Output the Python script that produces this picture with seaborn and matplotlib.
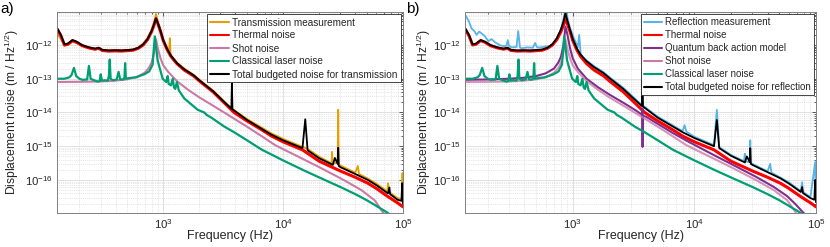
import matplotlib
matplotlib.use('Agg')
import matplotlib.pyplot as plt
import matplotlib.ticker as mticker
import seaborn as sns

sns.set_theme(style="white")
plt.rcParams['font.family'] = ['Liberation Sans', 'DejaVu Sans']
plt.rcParams['mathtext.fontset'] = 'custom'
plt.rcParams['mathtext.rm'] = 'Liberation Sans'
plt.rcParams['mathtext.it'] = 'Liberation Sans:italic'
plt.rcParams['mathtext.bf'] = 'Liberation Sans:bold'

# ---- data (frequency in Hz, displacement noise in m/Hz^1/2) ----
F_TOTAL_T = [130, 140, 150, 160, 175, 190, 210, 240, 270, 290, 310, 350, 400, 450, 500, 560, 620, 680, 740,
             800, 840, 870, 900, 950, 1000, 1080, 1160, 1300, 1500, 1800, 2000, 2600, 3200, 3700, 3740, 3780,
             5000, 6600, 8000, 10000, 14500, 15300, 16000, 20000, 26000, 27000, 28500, 28800, 29100, 30000,
             40000, 51000, 60000, 75000, 77000, 78000, 90000, 97000, 98500, 100000]
TOTAL_T = [3.2e-12, 2.0e-12, 1.05e-12, 1.1e-12, 1.4e-12, 1.25e-12, 1.0e-12, 8.5e-13, 7.8e-13, 8.3e-13, 7.2e-13,
           6.9e-13, 7.0e-13, 6.9e-13, 7.1e-13, 7.3e-13, 8.3e-13, 1.05e-12, 1.5e-12, 2.6e-12, 4.2e-12, 6.2e-12,
           4.6e-12, 2.6e-12, 1.4e-12, 7.5e-13, 4.8e-13, 2.9e-13, 1.9e-13, 1.25e-13, 9.0e-14, 4.3e-14, 2.1e-14,
           1.3e-14, 7.3e-14, 1.25e-14, 6.0e-15, 3.3e-15, 2.2e-15, 1.5e-15, 8.8e-16, 6.3e-15, 7.6e-16, 4.4e-16,
           2.8e-16, 4.5e-16, 3.0e-16, 9.0e-16, 2.6e-16, 2.4e-16, 1.5e-16, 1.0e-16, 7.0e-17, 4.0e-17, 6.0e-17,
           3.8e-17, 2.6e-17, 2.4e-17, 8.0e-17, 2.0e-17]

F_TRANS = [130, 140, 150, 160, 175, 190, 210, 240, 270, 290, 310, 350, 400, 450, 500, 560, 620, 680, 740, 800,
           840, 870, 900, 950, 1000, 1080, 1120, 1135, 1150, 1160, 1300, 1500, 1800, 2000, 2600, 3200, 3740,
           5000, 6600, 8000, 10000, 14500, 16000, 20000, 25400, 25600, 25800, 28500, 28800, 29100, 30000,
           40000, 42000, 43000, 51000, 60000, 74000, 75000, 76000, 90000, 98000, 99000, 100000]
TRANS = [2.2e-12, 1.5e-12, 9.5e-13, 1.0e-12, 1.25e-12, 1.15e-12, 9.5e-13, 8.0e-13, 7.4e-13, 8.0e-13, 7.0e-13,
         6.8e-13, 7.0e-13, 6.9e-13, 7.1e-13, 7.4e-13, 8.5e-13, 1.1e-12, 1.6e-12, 2.8e-12, 4.8e-12, 8.3e-12,
         5.0e-12, 2.7e-12, 1.45e-12, 7.8e-13, 6.5e-13, 1.6e-12, 6.0e-13, 5.0e-13, 3.0e-13, 2.0e-13, 1.3e-13,
         9.4e-14, 4.5e-14, 2.2e-14, 1.3e-14, 6.4e-15, 3.6e-15, 2.4e-15, 1.65e-15, 9.6e-16, 8.3e-16, 4.9e-16,
         3.1e-16, 6.8e-16, 3.0e-16, 3.3e-16, 1.2e-14, 2.9e-16, 2.7e-16, 1.65e-16, 2.6e-16, 1.5e-16, 1.1e-16,
         7.8e-17, 4.6e-17, 8.0e-17, 4.5e-17, 2.9e-17, 2.7e-17, 1.6e-16, 2.3e-17]

F_THERMAL = [130, 140, 150, 160, 175, 190, 210, 240, 270, 290, 310, 350, 400, 450, 500, 560, 620, 680, 740, 800,
             840, 870, 900, 950, 1000, 1080, 1160, 1300, 1500, 1800, 2000, 2600, 3200, 3900, 5000, 6600, 8000,
             10000, 14500, 20000, 30000, 40000, 51000, 60000, 75000, 90000, 100000]
THERMAL = [3.0e-12, 1.9e-12, 1.0e-12, 1.05e-12, 1.35e-12, 1.2e-12, 9.6e-13, 8.2e-13, 7.5e-13, 8.0e-13, 6.9e-13,
           6.6e-13, 6.7e-13, 6.6e-13, 6.8e-13, 7.0e-13, 8.0e-13, 1.0e-12, 1.45e-12, 2.5e-12, 4.0e-12, 6.0e-12,
           4.4e-12, 2.5e-12, 1.35e-12, 7.2e-13, 4.6e-13, 2.8e-13, 1.8e-13, 1.2e-13, 8.6e-14, 4.1e-14, 2.0e-14,
           1.0e-14, 5.6e-15, 3.1e-15, 2.0e-15, 1.35e-15, 7.8e-16, 3.6e-16, 1.85e-16, 1.2e-16, 8.0e-17, 5.6e-17,
           3.2e-17, 2.1e-17, 1.6e-17]

F_SHOT = [130, 200, 300, 400, 500, 600, 700, 760, 800, 840, 870, 900, 950, 1000, 1100, 1300, 1600, 2000, 2600,
          3300, 4000, 5000, 6600, 8500, 10000, 15000, 20000, 32000, 45000, 58000, 68000, 80000]
SHOT = [8.0e-14, 8.1e-14, 8.3e-14, 8.8e-14, 9.6e-14, 1.12e-13, 1.5e-13, 2.1e-13, 3.0e-13, 6.0e-13, 1.5e-12,
        8.0e-13, 4.0e-13, 2.5e-13, 1.6e-13, 8.5e-14, 4.8e-14, 2.8e-14, 1.6e-14, 9.5e-15, 6.2e-15, 3.8e-15,
        2.0e-15, 1.1e-15, 8.2e-16, 4.0e-16, 2.4e-16, 1.0e-16, 5.0e-17, 2.5e-17, 1.1e-17, 5.0e-18]

F_CLASSICAL = [130, 150, 165, 172, 180, 188, 200, 212, 232, 240, 248, 265, 285, 295, 301, 308, 325, 345, 352,
               358, 364, 380, 410, 424, 438, 465, 475, 481, 488, 520, 591, 693, 764, 815, 851, 898, 989, 1060,
               1090, 1110, 1160, 1200, 1230, 1260, 1300, 1350, 1500, 1940, 2200, 2300, 2510, 3240, 3900, 5000,
               6600, 10000, 15000, 21600, 30000, 40000, 50000, 60000, 75000, 85000]
CLASSICAL = [1.0e-13, 1.0e-13, 1.1e-13, 1.3e-13, 2.1e-13, 1.2e-13, 1.0e-13, 9.3e-14, 9.5e-14, 2.4e-13, 1.0e-13,
             9.0e-14, 8.2e-14, 8.5e-14, 1.35e-13, 8.8e-14, 9.0e-14, 8.8e-14, 1.2e-13, 3.7e-13, 1.0e-13, 9.0e-14,
             9.5e-14, 1.6e-13, 9.5e-14, 9.5e-14, 1.1e-13, 2.9e-13, 1.0e-13, 1.05e-13, 1.1e-13, 1.35e-13, 1.65e-13,
             2.6e-13, 1.8e-12, 3.5e-13, 1.0e-13, 8.0e-14, 1.2e-13, 7.0e-14, 6.4e-14, 1.0e-13, 5.5e-14, 5.0e-14,
             8.0e-14, 4.5e-14, 2.6e-14, 1.2e-14, 1.0e-14, 8.5e-15, 7.1e-15, 3.8e-15, 2.6e-15, 1.5e-15, 8.0e-16,
             3.8e-16, 1.9e-16, 1.05e-16, 6.2e-17, 3.8e-17, 2.5e-17, 1.7e-17, 1.05e-17, 7.0e-18]

F_REFL = [130, 140, 147, 155, 162, 170, 178, 190, 202, 215, 230, 250, 268, 285, 292, 300, 320, 345, 356, 368,
          380, 420, 470, 490, 510, 560, 600, 645, 700, 728, 760, 790, 830, 860, 880, 900, 950, 1010, 1100, 1130,
          1160, 1200, 1300, 1500, 1800, 2000, 2600, 3200, 3700, 3740, 3780, 5000, 6600, 8000, 8300, 8600, 10000,
          14500, 15300, 16000, 20000, 25600, 26000, 26400, 28500, 28800, 29100, 30000, 40000, 42000, 43000,
          51000, 60000, 75000, 77000, 78000, 90000, 98500, 99000, 100000]
REFL = [8.0e-12, 5.0e-12, 3.1e-12, 2.6e-12, 2.0e-12, 2.5e-12, 2.2e-12, 1.8e-12, 1.3e-12, 1.5e-12, 1.2e-12,
        1.0e-12, 9.2e-13, 9.5e-13, 1.4e-12, 9.0e-13, 8.5e-13, 8.8e-13, 2.6e-12, 8.5e-13, 8.0e-13, 8.5e-13,
        8.3e-13, 1.15e-12, 8.4e-13, 8.6e-13, 9.0e-13, 9.2e-13, 1.15e-12, 1.4e-12, 1.9e-12, 2.6e-12, 5.0e-12,
        9.0e-12, 1.3e-11, 7.0e-12, 3.2e-12, 1.8e-12, 8.5e-13, 2.0e-12, 5.7e-13, 4.5e-13, 3.5e-13, 2.35e-13,
        1.55e-13, 1.12e-13, 5.4e-14, 2.7e-14, 1.65e-14, 1.6e-13, 1.6e-14, 7.5e-15, 4.2e-15, 2.8e-15, 4.2e-15,
        2.7e-15, 1.9e-15, 1.08e-15, 1.2e-14, 9.5e-16, 5.5e-16, 3.6e-16, 6.0e-16, 3.5e-16, 3.4e-16, 1.5e-15,
        3.2e-16, 3.0e-16, 1.8e-16, 3.0e-16, 1.65e-16, 1.18e-16, 8.4e-17, 4.7e-17, 8.6e-17, 4.5e-17, 3.1e-17,
        3.4e-16, 3.0e-17, 2.4e-17]

F_TOTAL_R = [130, 140, 150, 160, 175, 190, 210, 240, 270, 290, 310, 350, 400, 450, 500, 560, 620, 680, 740,
             800, 840, 870, 900, 950, 1000, 1080, 1160, 1300, 1500, 1800, 2000, 2600, 3200, 3700, 3740, 3780,
             5000, 6600, 8000, 10000, 14500, 15300, 16000, 20000, 26000, 27000, 28500, 28800, 29100, 30000,
             40000, 51000, 60000, 75000, 77000, 78000, 90000, 97000, 98500, 100000]
TOTAL_R = [3.2e-12, 2.0e-12, 1.05e-12, 1.1e-12, 1.4e-12, 1.25e-12, 1.0e-12, 8.5e-13, 7.8e-13, 8.3e-13, 7.2e-13,
           6.9e-13, 7.0e-13, 6.9e-13, 7.1e-13, 7.3e-13, 8.3e-13, 1.05e-12, 1.6e-12, 2.9e-12, 5.0e-12, 9.0e-12,
           5.5e-12, 2.8e-12, 1.5e-12, 7.9e-13, 5.2e-13, 3.3e-13, 2.2e-13, 1.45e-13, 1.05e-13, 5.0e-14, 2.5e-14,
           1.55e-14, 9.0e-14, 1.5e-14, 7.0e-15, 3.9e-15, 2.6e-15, 1.75e-15, 1.0e-15, 6.0e-15, 8.8e-16, 5.2e-16,
           3.3e-16, 5.0e-16, 3.4e-16, 8.7e-16, 3.0e-16, 2.8e-16, 1.7e-16, 1.12e-16, 7.8e-17, 4.4e-17, 6.2e-17,
           4.1e-17, 2.9e-17, 2.6e-17, 1.0e-16, 2.2e-17]

F_QBA = [130, 200, 300, 400, 500, 600, 700, 760, 800, 840, 870, 900, 950, 1000, 1100, 1300, 1600, 2000, 2600,
         3300, 3720, 3740, 3750, 3760, 4000, 5000, 6600, 8500, 10000, 15000, 20000, 32000, 45000, 58000, 68000,
         80000]
QBA = [9.3e-14, 9.5e-14, 1.0e-13, 1.07e-13, 1.2e-13, 1.45e-13, 2.0e-13, 3.0e-13, 4.5e-13, 1.0e-12, 3.5e-12,
       2.2e-12, 8.0e-13, 4.0e-13, 2.0e-13, 1.0e-13, 5.7e-14, 3.4e-14, 1.95e-14, 1.15e-14, 8.5e-15, 1.3e-14,
       9.5e-16, 8.0e-15, 7.5e-15, 4.6e-15, 2.5e-15, 1.5e-15, 1.1e-15, 5.1e-16, 3.0e-16, 1.25e-16, 6.2e-17,
       3.3e-17, 1.9e-17, 1.0e-17]

ORANGE = '#E69F00'
SKYBLUE = '#56B4E9'
RED = '#FF0000'
PINK = '#CC79A7'
GREEN = '#009E73'
PURPLE = '#7E2F8E'
INK = '#262626'

fig, axes = plt.subplots(1, 2, figsize=(8.3, 2.47), dpi=100)
axes[0].set_position([57 / 830, 34 / 247, 346 / 830, 201 / 247])
axes[1].set_position([465 / 830, 34 / 247, 351 / 830, 201 / 247])

kw = dict(estimator=None, sort=False)

# panel a: transmission
ax = axes[0]
sns.lineplot(x=F_TRANS, y=TRANS, ax=ax, color=ORANGE, lw=1.3, label='Transmission measurement', **kw)
sns.lineplot(x=F_THERMAL, y=THERMAL, ax=ax, color=RED, lw=2.2, label='Thermal noise', **kw)
sns.lineplot(x=F_SHOT, y=SHOT, ax=ax, color=PINK, lw=1.5, label='Shot noise', **kw)
sns.lineplot(x=F_CLASSICAL, y=CLASSICAL, ax=ax, color=GREEN, lw=1.6, label='Classical laser noise', **kw)
sns.lineplot(x=F_TOTAL_T, y=TOTAL_T, ax=ax, color='black', lw=1.3,
             label='Total budgeted noise for transmission', **kw)

# panel b: reflection
ax = axes[1]
sns.lineplot(x=F_REFL, y=REFL, ax=ax, color=SKYBLUE, lw=1.3, label='Reflection measurement', **kw)
sns.lineplot(x=F_THERMAL, y=THERMAL, ax=ax, color=RED, lw=2.2, label='Thermal noise', **kw)
sns.lineplot(x=F_QBA, y=QBA, ax=ax, color=PURPLE, lw=1.5, label='Quantum back action model', **kw)
sns.lineplot(x=F_SHOT, y=SHOT, ax=ax, color=PINK, lw=1.5, alpha=0.8, label='Shot noise', **kw)
sns.lineplot(x=F_CLASSICAL, y=CLASSICAL, ax=ax, color=GREEN, lw=1.6, label='Classical laser noise', **kw)
sns.lineplot(x=F_TOTAL_R, y=TOTAL_R, ax=ax, color='black', lw=1.3,
             label='Total budgeted noise for reflection', **kw)

for ax, lab_x, leg_fs in zip(axes, [-0.104, -0.092], [7.2, 7.0]):
    ax.set(xscale='log', yscale='log')
    ax.set_xlim(130, 1e5)
    ax.set_ylim(1.05e-17, 9.5e-12)
    ax.xaxis.set_major_locator(mticker.FixedLocator([1e3, 1e4, 1e5]))
    ax.yaxis.set_major_locator(mticker.FixedLocator([1e-16, 1e-15, 1e-14, 1e-13, 1e-12]))
    ax.xaxis.set_major_formatter(mticker.LogFormatterSciNotation())
    ax.yaxis.set_major_formatter(mticker.LogFormatterSciNotation())
    ax.xaxis.set_minor_locator(mticker.LogLocator(base=10, subs=range(2, 10), numticks=12))
    ax.yaxis.set_minor_locator(mticker.LogLocator(base=10, subs=range(2, 10), numticks=12))
    ax.xaxis.set_minor_formatter(mticker.NullFormatter())
    ax.yaxis.set_minor_formatter(mticker.NullFormatter())
    ax.grid(True, which='major', color='#dcdcdc', lw=0.6, ls='-')
    ax.grid(True, which='minor', color='#d0d0d0', lw=0.5, ls=':')
    ax.tick_params(which='both', direction='in', top=True, right=True, colors=INK, labelsize=8.2,
                   labelcolor=INK, pad=3)
    ax.tick_params(which='major', length=3, width=0.5)
    ax.tick_params(which='minor', length=1.5, width=0.5)
    for sp in ax.spines.values():
        sp.set_color('#808080')
        sp.set_linewidth(0.7)
    ax.set_xlabel('Frequency (Hz)', fontsize=9, color=INK, labelpad=-1)
    ax.set_ylabel('Displacement noise (m / Hz$^{1/2}$)', fontsize=8.7, color=INK)
    ax.yaxis.set_label_coords(lab_x, 0.5)
    leg = ax.legend(loc='upper right', fontsize=leg_fs, frameon=True, fancybox=False, framealpha=1,
                    edgecolor=INK, borderpad=0.3, labelspacing=0.3, handlelength=1.9,
                    handletextpad=0.3, borderaxespad=0.25)
    leg.get_frame().set_linewidth(0.6)
    for line in leg.get_lines():
        line.set_linewidth(1.5)
        line.set_alpha(1)

fig.text(0 / 830, 1 - 2 / 247, 'a)', fontsize=11, va='top', ha='left', color='black')
fig.text(406 / 830, 1 - 2 / 247, 'b)', fontsize=11, va='top', ha='left', color='black')

plt.savefig('out.png', dpi=100)
plt.close()
